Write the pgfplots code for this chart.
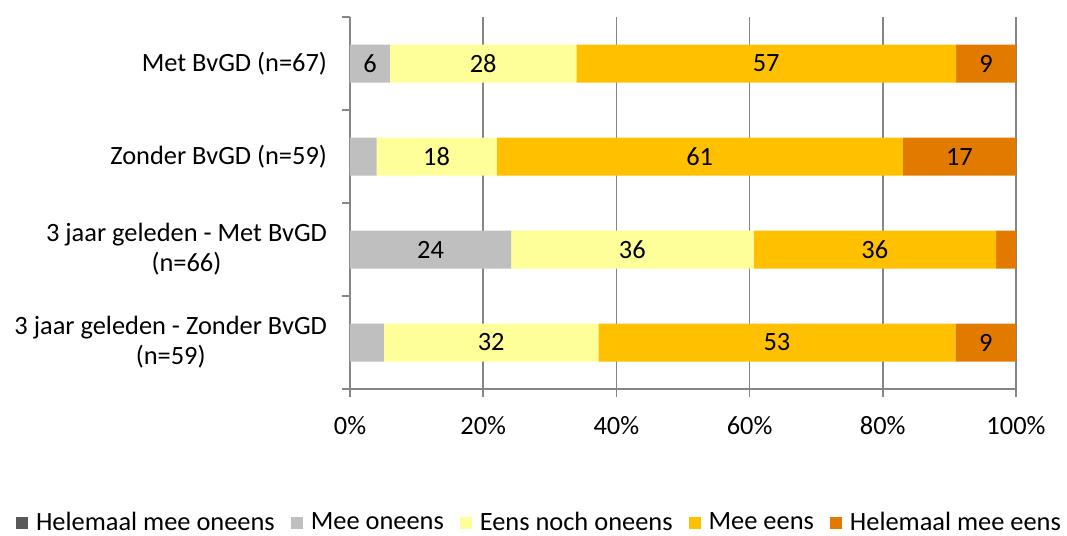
\documentclass[border=0pt]{standalone}
\usepackage{pgfplots}
\pgfplotsset{compat=1.18}
\usepackage{pgfplotstable}
\usepackage{fontspec}
\setmainfont{Carlito}
\definecolor{c1}{HTML}{595959}
\definecolor{c2}{HTML}{BFBFBF}
\definecolor{c3}{HTML}{FFFF99}
\definecolor{c4}{HTML}{FFC000}
\definecolor{c5}{HTML}{E37A00}
\definecolor{axgray}{HTML}{868686}
\pgfplotstableread{
cat hmo mo eno me hme moL enoL meL hmeL
0 0 6 28 57 9 6 28 57 9
1 0 4 18 61 17 {} 18 61 17
2 0 24.2 36.4 36.4 3 24 36 36 {}
3 0 5.1 32.2 53.6 9.1 {} 32 53 9
}\data
\pgfplotsset{
  sq/.style={legend image code/.code={\fill[##1] (0pt,-3pt) rectangle (6pt,3pt);}},
  lab/.style={nodes near coords, point meta=explicit symbolic,
    every node near coord/.style={anchor=center, text=black}},
}
\begin{document}
\begin{tikzpicture}[font=\fontsize{13.2}{15}\selectfont]
\useasboundingbox (-175pt,-73.5pt) rectangle (358.5pt,194.5pt);
\begin{axis}[
  at={(0,0)}, anchor=south west,
  scale only axis, width=333pt, height=186pt,
  xbar stacked, bar width=19pt,
  xmin=0, xmax=100, ymin=-0.5, ymax=3.5, y dir=reverse,
  axis x line=bottom, axis y line=left,
  axis line style={draw=axgray, line width=0.75pt, -},
  tick align=outside, major tick length=4pt,
  xtick={0,20,40,60,80,100},
  xticklabels={0\%,20\%,40\%,60\%,80\%,100\%},
  xtick style={draw=axgray, line width=0.75pt},
  xticklabel style={yshift=-6pt},
  xmajorgrids, grid style={draw=axgray, line width=0.75pt},
  ytick={0,1,2,3},
  yticklabels={{Met BvGD (n=67)},{Zonder BvGD (n=59)},{3 jaar geleden - Met BvGD\\(n=66)},{3 jaar geleden - Zonder BvGD\\(n=59)}},
  yticklabel style={align=center, xshift=-4pt},
  ytick style={draw=none},
  extra y ticks={-0.5,0.5,1.5,2.5,3.5},
  extra y tick labels={},
  extra y tick style={ytick style={draw=axgray, line width=0.75pt}},
  clip=false,
  legend columns=-1,
  legend style={draw=none, fill=none, inner sep=0pt, at={(0.286,-0.36)}, anchor=center,
    /tikz/every even column/.append style={column sep=6pt},
    /tikz/every odd column/.append style={column sep=2pt}},
]
\addplot[fill=c1, draw=none, sq] table[x=hmo, y=cat] \data;
\addplot[fill=c2, draw=none, sq, lab] table[x=mo, y=cat, meta=moL] \data;
\addplot[fill=c3, draw=none, sq, lab] table[x=eno, y=cat, meta=enoL] \data;
\addplot[fill=c4, draw=none, sq, lab] table[x=me, y=cat, meta=meL] \data;
\addplot[fill=c5, draw=none, sq, lab] table[x=hme, y=cat, meta=hmeL] \data;
\legend{Helemaal mee oneens, Mee oneens, Eens noch oneens, Mee eens, Helemaal mee eens}
\end{axis}
\end{tikzpicture}
\end{document}
